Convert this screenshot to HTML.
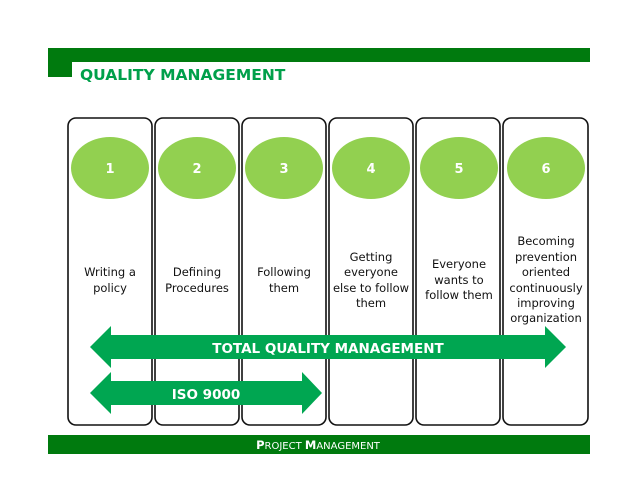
<!DOCTYPE html>
<html><head><style>
html,body{margin:0;padding:0;background:#fff;}
svg{display:block;}
text{font-family:"DejaVu Sans","Liberation Sans",sans-serif;}
</style></head><body>
<svg width="638" height="493" viewBox="0 0 638 493" xmlns="http://www.w3.org/2000/svg">
<rect x="48" y="48" width="542" height="14" fill="#007a0e"/>
<rect x="48" y="48" width="24" height="29" fill="#007a0e"/>
<rect x="72" y="62" width="8" height="15" fill="#fff"/>
<text x="80" y="80" font-size="15.5" font-weight="bold" fill="#00a04a">QUALITY MANAGEMENT</text>
<g fill="#fff" stroke="#111" stroke-width="1.6">
<rect x="68" y="118" width="84" height="307" rx="8"/>
<rect x="155" y="118" width="84" height="307" rx="8"/>
<rect x="242" y="118" width="84" height="307" rx="8"/>
<rect x="329" y="118" width="84" height="307" rx="8"/>
<rect x="416" y="118" width="84" height="307" rx="8"/>
<rect x="503" y="118" width="85" height="307" rx="8"/>
</g>
<g fill="#92d050">
<ellipse cx="110" cy="168" rx="39" ry="31"/>
<ellipse cx="197" cy="168" rx="39" ry="31"/>
<ellipse cx="284" cy="168" rx="39" ry="31"/>
<ellipse cx="371" cy="168" rx="39" ry="31"/>
<ellipse cx="459" cy="168" rx="39" ry="31"/>
<ellipse cx="546" cy="168" rx="39" ry="31"/>
</g>
<g fill="#fff" font-size="13" font-weight="bold" text-anchor="middle">
<text x="110" y="173">1</text><text x="197" y="173">2</text><text x="284" y="173">3</text>
<text x="371" y="173">4</text><text x="459" y="173">5</text><text x="546" y="173">6</text>
</g>
<g fill="#111" font-size="11.5" text-anchor="middle">
<text x="110" y="276">Writing a</text><text x="110" y="292">policy</text>
<text x="197" y="276">Defining</text><text x="197" y="292">Procedures</text>
<text x="284" y="276">Following</text><text x="284" y="292">them</text>
<text x="371" y="261">Getting</text><text x="371" y="276">everyone</text><text x="371" y="292">else to follow</text><text x="371" y="307">them</text>
<text x="459" y="268">Everyone</text><text x="459" y="284">wants to</text><text x="459" y="299">follow them</text>
<text x="546" y="245">Becoming</text><text x="546" y="261">prevention</text><text x="546" y="276">oriented</text><text x="546" y="292">continuously</text><text x="546" y="307">improving</text><text x="546" y="322">organization</text>
</g>
<polygon fill="#00a651" points="90,347 111,326 111,335 545,335 545,326 566,347 545,368 545,359 111,359 111,368"/>
<text x="328" y="353" fill="#fff" font-size="13.5" font-weight="bold" text-anchor="middle">TOTAL QUALITY MANAGEMENT</text>
<polygon fill="#00a651" points="90,393 111,372 111,381 302,381 302,372 322,393 302,414 302,405 111,405 111,414"/>
<text x="206" y="399" fill="#fff" font-size="13.5" font-weight="bold" text-anchor="middle">ISO 9000</text>
<rect x="48" y="435" width="542" height="19" fill="#007a0e"/>
<text x="318" y="449" fill="#fff" font-size="10" text-anchor="middle"><tspan font-size="11.5" font-weight="bold">P</tspan>ROJECT <tspan font-size="11.5" font-weight="bold">M</tspan>ANAGEMENT</text>
</svg>
</body></html>
